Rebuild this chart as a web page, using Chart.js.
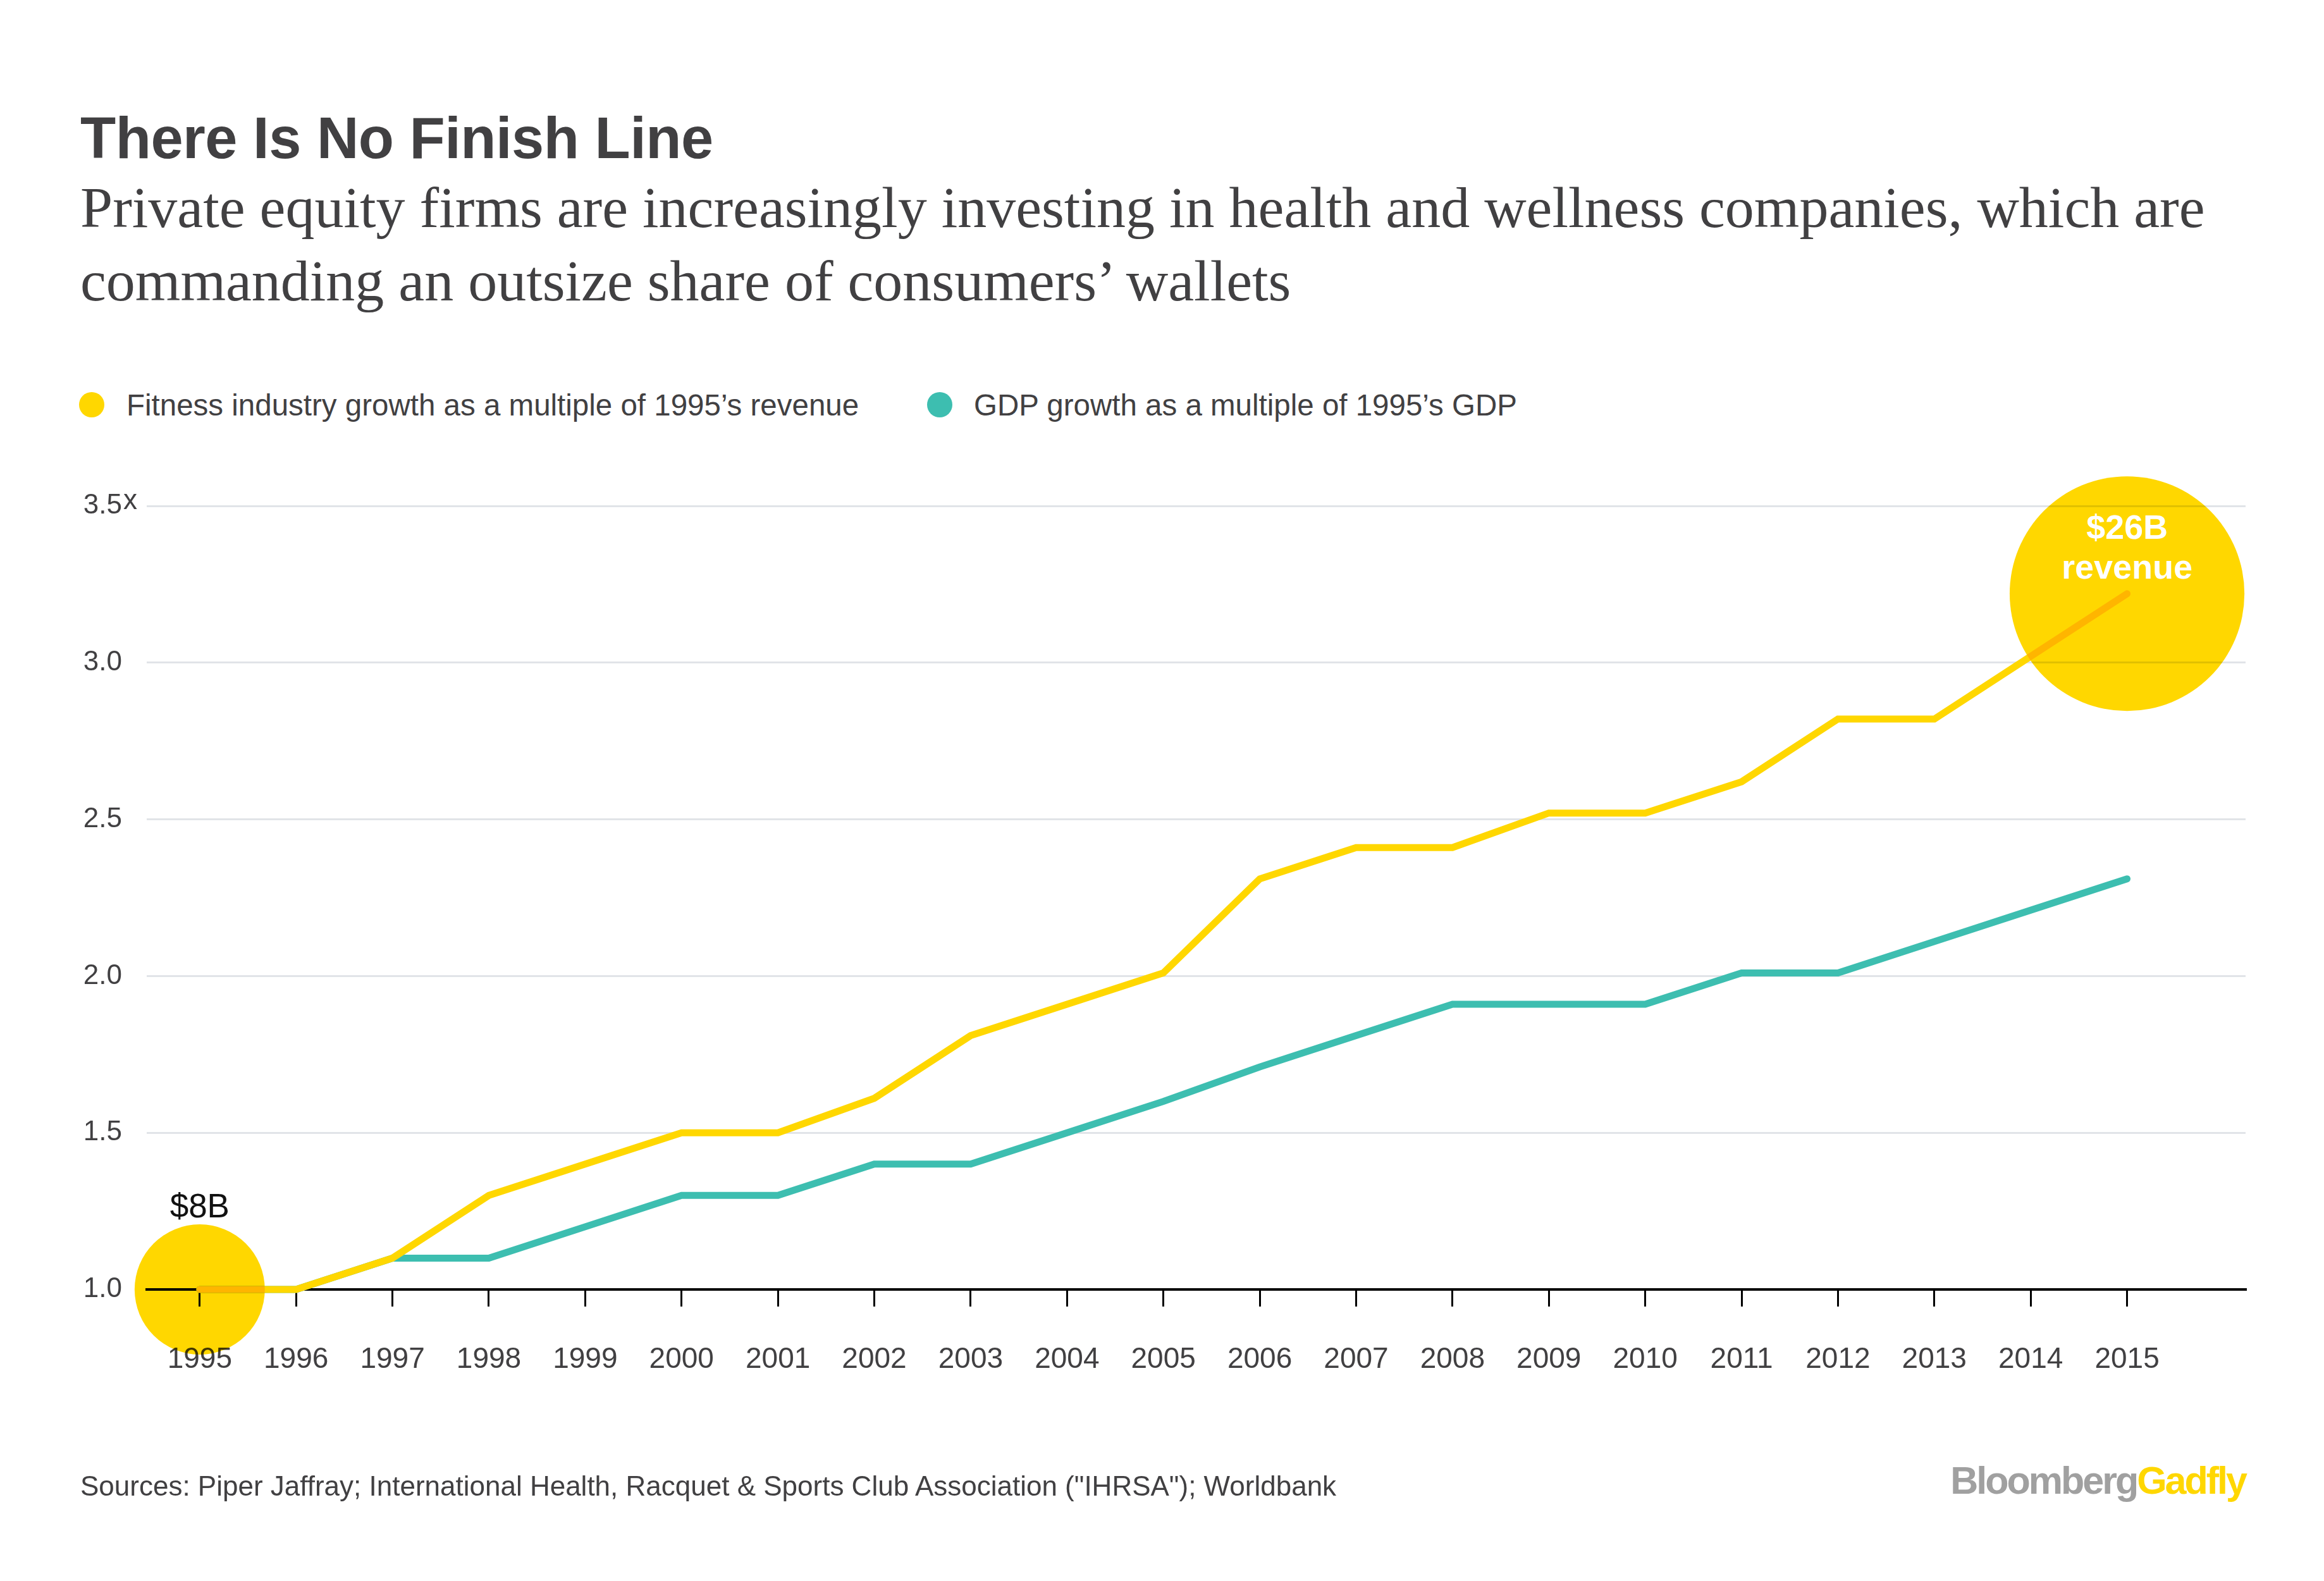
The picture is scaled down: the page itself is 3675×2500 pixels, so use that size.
<!DOCTYPE html>
<html>
<head>
<meta charset="utf-8">
<script src="https://cdn.jsdelivr.net/npm/chart.js@4.4.1/dist/chart.umd.min.js"></script>
<style>
  html, body { margin: 0; padding: 0; background: #fff; }
  #page { position: relative; width: 3675px; height: 2500px; overflow: hidden;
          font-family: "Liberation Sans", Arial, sans-serif; color: #414042; }
  #chartCanvas { position: absolute; left: 0; top: 0; }
  .title { position: absolute; left: 127px; top: 172px; font-size: 92px; line-height: 92px;
           font-weight: bold; letter-spacing: -0.5px; white-space: nowrap; }
  .subtitle { position: absolute; left: 127px; top: 270px; font-family: "Liberation Serif", serif;
              font-size: 92px; line-height: 116px; white-space: nowrap; }
  .legend-dot { position: absolute; top: 620px; width: 40px; height: 40px; border-radius: 50%; }
  .legend-text { position: absolute; top: 617px; font-size: 47.5px; line-height: 47.5px;
                 white-space: nowrap; }
  .source { position: absolute; left: 127px; top: 2328px; font-size: 44px; line-height: 44px;
            white-space: nowrap; }
  .logo { position: absolute; right: 124px; top: 2311px; font-size: 61px; line-height: 61px;
          font-weight: bold; letter-spacing: -3px; white-space: nowrap; }
  .logo .b { color: #a0a0a0; }
  .logo .g { color: #ffd700; }
</style>
</head>
<body>
<div id="page">
  <div class="title">There Is No Finish Line</div>
  <div class="subtitle">Private equity firms are increasingly investing in health and wellness companies, which are<br>commanding an outsize share of consumers’ wallets</div>
  <div id="legend"></div>
  <canvas id="chartCanvas" width="3675" height="2500"></canvas>
  <div class="source">Sources: Piper Jaffray; International Health, Racquet &amp; Sports Club Association ("IHRSA"); Worldbank</div>
  <div class="logo"><span class="b">Bloomberg</span><span class="g">Gadfly</span></div>
</div>
<script>
// data
const years = [1995, 1996, 1997, 1998, 1999, 2000, 2001, 2002, 2003, 2004, 2005,
               2006, 2007, 2008, 2009, 2010, 2011, 2012, 2013, 2014, 2015];
const fitness = [1.00, 1.00, 1.10, 1.30, 1.40, 1.50, 1.50, 1.61, 1.81, 1.91, 2.01,
                 2.31, 2.41, 2.41, 2.52, 2.52, 2.62, 2.82, 2.82, 3.02, 3.22];
const gdp = [1.00, 1.00, 1.10, 1.10, 1.20, 1.30, 1.30, 1.40, 1.40, 1.50, 1.60,
             1.71, 1.81, 1.91, 1.91, 1.91, 2.01, 2.01, 2.11, 2.21, 2.31];
const seriesLabels = ["Fitness industry growth as a multiple of 1995’s revenue",
                      "GDP growth as a multiple of 1995’s GDP"];

const bubbleYears = [1995, 2015];
const bubbleRevenue = [8, 26];            // $B
const bubbleLabels = [["$8B"], ["$26B", "revenue"]];

const yTicks = [1.0, 1.5, 2.0, 2.5, 3.0, 3.5];
const yTickLabels = ["1.0", "1.5", "2.0", "2.5", "3.0", "3.5"];
const yUnit = "x";

// styles
const YELLOW = "#ffd700";
const TEAL = "#3dbeb0";
const TEXT = "#414042";
const GRID = "#e1e4e8";
const bubbleScale = 36.4; // px per sqrt($B)

// legend
const legendColors = [YELLOW, TEAL];
const legendDotX = [125, 1466];
const legendTextX = [200, 1540];
const legend = document.getElementById("legend");
seriesLabels.forEach((label, i) => {
    legend.innerHTML += `<div class="legend-dot" style="left:${legendDotX[i]}px;background:${legendColors[i]}"></div>` +
                        `<div class="legend-text" style="left:${legendTextX[i]}px">${label}</div>`;
});

const bubbleRadius = rev => bubbleScale * Math.sqrt(rev);

// bubbles multiply over whatever lies beneath
const multiplyBubbles = {
    id: "multiplyBubbles",
    beforeDatasetDraw(chart, args) {
        if (args.meta.type === "bubble") {
            chart.ctx.save();
            chart.ctx.globalCompositeOperation = "multiply";
        }
    },
    afterDatasetDraw(chart, args) {
        if (args.meta.type === "bubble") chart.ctx.restore();
    }
};

const bubbleText = {
    id: "bubbleText",
    afterDatasetsDraw(chart) {
        const ctx = chart.ctx;
        const meta = chart.getDatasetMeta(0);
        ctx.save();
        ctx.textAlign = "center";
        ctx.textBaseline = "alphabetic";
        meta.data.forEach((pt, i) => {
            const lines = bubbleLabels[i];
            const r = bubbleRadius(bubbleRevenue[i]);
            if (lines.length === 1) {
                ctx.font = "53px 'Liberation Sans'";
                ctx.fillStyle = "#111";
                ctx.fillText(lines[0], pt.x, pt.y - r - 11);
            } else {
                ctx.font = "bold 54px 'Liberation Sans'";
                ctx.fillStyle = "#fff";
                ctx.fillText(lines[0], pt.x, pt.y - 87);
                ctx.fillText(lines[1], pt.x, pt.y - 24);
            }
        });
        ctx.restore();
    }
};

const yUnitMark = {
    id: "yUnitMark",
    afterDraw(chart) {
        const s = chart.scales.y;
        const ctx = chart.ctx;
        const top = s.getPixelForValue(yTicks[yTicks.length - 1]);
        ctx.save();
        ctx.font = "44px 'Liberation Sans'";
        ctx.fillStyle = TEXT;
        ctx.textAlign = "left";
        ctx.textBaseline = "alphabetic";
        ctx.fillText(yUnit, s.right - 37, top + 5);
        ctx.restore();
    }
};

Chart.defaults.font.family = "'Liberation Sans', Arial, sans-serif";

new Chart(document.getElementById("chartCanvas"), {
    type: "line",
    data: {
        datasets: [
            {
                type: "bubble",
                order: 0,
                clip: false,
                data: bubbleYears.map((yr, i) => ({
                    x: yr,
                    y: fitness[years.indexOf(yr)],
                    r: bubbleRadius(bubbleRevenue[i])
                })),
                backgroundColor: YELLOW,
                borderWidth: 0,
                hoverRadius: 0
            },
            {
                label: seriesLabels[0],
                order: 1,
                data: years.map((yr, i) => ({ x: yr, y: fitness[i] })),
                borderColor: YELLOW,
                borderWidth: 11,
                borderCapStyle: "round",
                pointRadius: 0,
                tension: 0,
                clip: false
            },
            {
                label: seriesLabels[1],
                order: 2,
                data: years.map((yr, i) => ({ x: yr, y: gdp[i] })),
                borderColor: TEAL,
                borderWidth: 11,
                borderCapStyle: "round",
                pointRadius: 0,
                tension: 0,
                clip: false
            }
        ]
    },
    options: {
        responsive: false,
        animation: false,
        devicePixelRatio: 1,
        events: [],
        layout: { autoPadding: false, padding: { left: 0, top: 800, right: 124, bottom: 0 } },
        plugins: { legend: { display: false }, tooltip: { enabled: false } },
        scales: {
            x: {
                type: "linear",
                min: 1994.45,
                max: 2016.23,
                afterBuildTicks: scale => { scale.ticks = years.map(v => ({ value: v })); },
                afterFit: scale => {
                    scale.height = 461;
                    scale.paddingLeft = 0;
                    scale.paddingRight = 0;
                },
                grid: { drawOnChartArea: false, drawTicks: true, tickLength: 27, color: "#000", lineWidth: 3 },
                border: { display: true, color: "#000", width: 4 },
                ticks: {
                    autoSkip: false,
                    maxRotation: 0,
                    padding: 57,
                    color: TEXT,
                    font: { size: 46 },
                    callback: v => String(v)
                }
            },
            y: {
                min: 1.0,
                max: 3.5,
                afterBuildTicks: scale => { scale.ticks = yTicks.map(v => ({ value: v })); },
                afterFit: scale => { scale.width = 232; },
                grid: { drawTicks: false, color: GRID, lineWidth: 3 },
                border: { display: false },
                ticks: {
                    padding: 39,
                    color: TEXT,
                    font: { size: 44 },
                    callback: v => yTickLabels[yTicks.indexOf(v)]
                }
            }
        }
    },
    plugins: [multiplyBubbles, bubbleText, yUnitMark]
});
</script>
</body>
</html>
